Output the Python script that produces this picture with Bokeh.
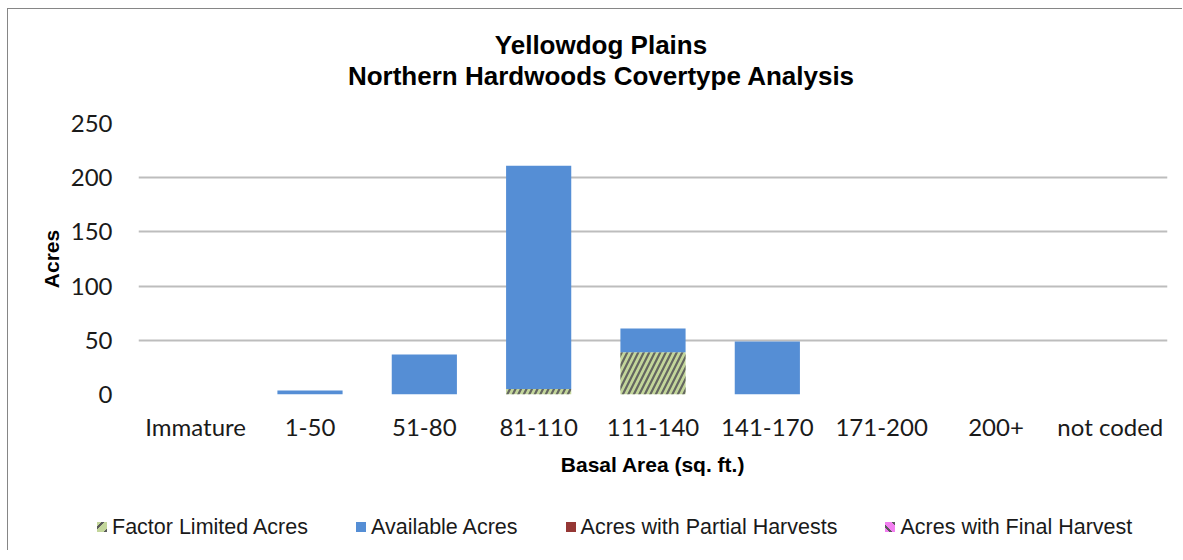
from bokeh.plotting import figure
from bokeh.layouts import column
from bokeh.models import (ColumnDataSource, FactorRange, Range1d, FixedTicker, Div)
from bokeh.embed import file_html
from bokeh.resources import INLINE

# ---- data ----
categories = ["Immature", "1-50", "51-80", "81-110", "111-140",
              "141-170", "171-200", "200+", "not coded"]
factor_limited = [0, 0, 0, 5, 39, 0, 0, 0, 0]
available = [0, 3.6, 37, 206, 22, 49, 0, 0, 0]
partial_harvest = [0, 0, 0, 0, 0, 0, 0, 0, 0]
final_harvest = [0, 0, 0, 0, 0, 0, 0, 0, 0]
y_ticks = [0, 50, 100, 150, 200, 250]
series_names = ["Factor Limited Acres", "Available Acres",
                "Acres with Partial Harvests", "Acres with Final Harvest"]
title_lines = ["Yellowdog Plains", "Northern Hardwoods Covertype Analysis"]

colors = ["#c3d69b", "#558ed5", "#953735", "#f27ff0"]
hatches = ["/", " ", " ", "\\"]
HATCH = "#5a5a5a"

# ---- stacking ----
series = [factor_limited, available, partial_harvest, final_harvest]
bottoms, tops = [], []
running = [0.0] * len(categories)
for s in series:
    b = list(running)
    t = [r + v for r, v in zip(running, s)]
    bottoms.append(b)
    tops.append(t)
    running = t

data = {"cat": categories}
for i in range(len(series)):
    data[f"b{i}"] = bottoms[i]
    data[f"t{i}"] = tops[i]
source = ColumnDataSource(data)

W = 1174

# ---- title ----
title_html = (
    '<div style="position:relative;width:%dpx;height:100px;'
    'font-family:\'Liberation Sans\',Arial,sans-serif;font-weight:bold;'
    'font-size:26px;color:#000;">' % W
)
for line, top in zip(title_lines, [21, 52]):
    title_html += ('<div style="position:absolute;left:0;top:%dpx;width:1186px;'
                   'line-height:30px;text-align:center;white-space:nowrap;">%s</div>'
                   % (top, line))
title_html += '</div>'
title_div = Div(text=title_html, width=W, height=100, margin=0)

# ---- main chart ----
p = figure(x_range=FactorRange(factors=categories, range_padding=0),
           y_range=Range1d(0, 250),
           width=W, height=381, title=None,
           output_backend="svg", toolbar_location=None,
           min_border_left=130, min_border_right=15,
           min_border_top=14, min_border_bottom=96)
p.margin = 0
p.outline_line_color = None
p.background_fill_color = "white"
p.border_fill_color = "white"

for i in range(len(series)):
    p.vbar(x="cat", bottom=f"b{i}", top=f"t{i}", width=0.57, source=source,
           fill_color=colors[i], line_color=None,
           hatch_pattern=hatches[i], hatch_color=HATCH,
           hatch_scale=11, hatch_weight=2.2, hatch_alpha=0.9)

p.xgrid.grid_line_color = None
p.ygrid.grid_line_color = "#bdbdbd"
p.ygrid.grid_line_width = 2
p.yaxis.ticker = FixedTicker(ticks=y_ticks)

for ax in (p.xaxis[0], p.yaxis[0]):
    ax.axis_line_color = None
    ax.major_tick_line_color = None
    ax.minor_tick_line_color = None
    ax.major_tick_out = 0
    ax.major_label_text_font = "Lato"
    ax.major_label_text_font_size = "24px"
    ax.major_label_text_color = "#1a1a1a"
    ax.axis_label_text_font = "Liberation Sans"
    ax.axis_label_text_font_style = "bold"
    ax.axis_label_text_font_size = "21px"
    ax.axis_label_text_color = "#000000"

p.yaxis.major_label_standoff = 26
p.yaxis.axis_label = "Acres"
p.yaxis.axis_label_standoff = 5
p.xaxis.major_label_standoff = 17
p.xaxis.axis_label = "Basal Area (sq. ft.)"
p.xaxis.axis_label_standoff = 9

# ---- legend ----
def swatch_bg(color, hatch):
    if hatch == "/":
        return ("repeating-linear-gradient(135deg, %s 0px, %s 3px, %s 3px, %s 5px, %s 5px, %s 9px)"
                % (color, color, HATCH, HATCH, color, color))
    if hatch == "\\":
        return ("repeating-linear-gradient(45deg, %s 0px, %s 3px, %s 3px, %s 5px, %s 5px, %s 9px)"
                % (color, color, HATCH, HATCH, color, color))
    return color

legend_html = ('<div style="width:%dpx;height:60px;box-sizing:border-box;padding-left:89px;'
               'padding-top:14px;display:flex;flex-direction:row;align-items:center;'
               'gap:48px;font-family:\'Liberation Sans\',Arial,sans-serif;font-size:21.5px;'
               'color:#1a1a1a;line-height:24px;white-space:nowrap;">' % W)
for name, c, h in zip(series_names, colors, hatches):
    legend_html += ('<div style="display:flex;align-items:center;">'
                    '<span style="display:inline-block;width:10px;height:10px;'
                    'margin-right:5px;background:%s;"></span><span>%s</span></div>'
                    % (swatch_bg(c, h), name))
legend_html += '</div>'
legend_div = Div(text=legend_html, width=W, height=60, margin=0)

layout = column(title_div, p, legend_div, spacing=0)
layout.styles = {"margin-left": "7px", "margin-top": "8px",
                 "border-left": "1px solid #868686", "border-top": "1px solid #868686"}

open("out.html", "w").write(file_html(layout, INLINE))
